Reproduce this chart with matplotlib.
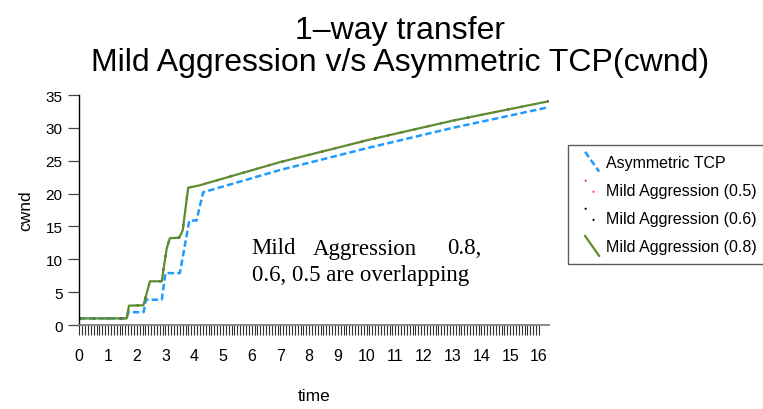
import matplotlib
matplotlib.use("Agg")
import matplotlib.pyplot as plt
from matplotlib.lines import Line2D
from matplotlib.legend_handler import HandlerLine2D
import numpy as np

# ---- data ----
asym_t = [0, 1.65, 1.70, 2.24, 2.32, 2.87, 3.00, 3.50, 3.83, 4.08, 4.31, 7.0, 10.1, 13.0, 16.4]
asym_c = [1, 1, 1.95, 1.95, 3.85, 3.85, 7.9, 7.9, 15.9, 15.9, 20.2, 23.6, 27.0, 30.0, 33.2]

mild_t = [0, 1.65, 1.73, 2.23, 2.46, 2.87, 3.04, 3.15, 3.48, 3.60, 3.79, 4.14, 7.0, 10.1, 13.0, 16.4]
mild08_c = [1, 1, 2.95, 3.0, 6.65, 6.65, 11.6, 13.2, 13.3, 14.4, 20.9, 21.2, 24.8, 28.2, 31.1, 34.1]
mild06_c = [1, 1, 2.95, 3.0, 6.65, 6.65, 11.6, 13.2, 13.3, 14.4, 20.9, 21.2, 24.8, 28.2, 31.1, 34.1]
mild05_c = [1, 1, 2.95, 3.0, 6.65, 6.65, 11.6, 13.2, 13.3, 14.4, 20.9, 21.2, 24.8, 28.2, 31.1, 34.1]

labels = ["Asymmetric TCP", "Mild Aggression (0.5)", "Mild Aggression (0.6)", "Mild Aggression (0.8)"]
x_major = list(range(0, 17))
y_major = [0, 5, 10, 15, 20, 25, 30, 35]

W, H = 763, 410
fig = plt.figure(figsize=(W / 100, H / 100), dpi=100)
plt.rcParams['font.family'] = ['Liberation Sans', 'DejaVu Sans']

def fx(px):
    return px / W
def fy(py):
    return 1 - py / H

ax = fig.add_axes([fx(79.3), fy(326), fx(549) - fx(79.3), fy(96) - fy(326)])

blue = '#1E9BFF'
green = '#5E8C2E'
l_asym, = ax.plot(asym_t, asym_c, color=blue, lw=1.8, ls=(0, (2.6, 1.3)))
l_05, = ax.plot(mild_t, mild05_c, color='#FF3366', lw=1.4, ls=(0, (1, 6)))
l_06, = ax.plot(mild_t, mild06_c, color='black', lw=1.4, ls=(0, (1, 6)))
l_08, = ax.plot(mild_t, mild08_c, color=green, lw=1.6)

ax.set_xlim(0, 16.35)
ax.set_ylim(0, 35)
for s in ['top', 'right']:
    ax.spines[s].set_visible(False)
ax.spines['left'].set_color('black')
ax.spines['left'].set_linewidth(1.0)
ax.spines['bottom'].set_color('#808080')
ax.spines['bottom'].set_linewidth(1.3)

ax.set_xticks(x_major)
ax.set_xticks(np.round(np.arange(0, 16.01, 0.1), 2), minor=True)
ax.set_yticks(y_major)
ax.tick_params(axis='x', which='both', direction='out', length=7.5, width=0.8,
               color='#333333', labelsize=11.5, pad=9)
ax.tick_params(axis='y', which='major', direction='out', length=8, width=0.9,
               color='#444444', labelsize=11, pad=4)
ax.set_xlabel('time', fontsize=12.5, labelpad=18)
ax.set_ylabel('cwnd', fontsize=12.5, labelpad=9)

# title
fig.text(fx(400), fy(31), '1\u2013way transfer', fontsize=23, ha='center', va='center')
fig.text(fx(400), fy(63), 'Mild Aggression v/s Asymmetric TCP(cwnd)', fontsize=23, ha='center', va='center')

# annotation (justified first line)
serif = ['Liberation Serif', 'DejaVu Serif']
fig.text(fx(251.7), fy(249), 'Mild', family=serif, fontsize=16.5, ha='left', va='center')
fig.text(fx(365), fy(249), 'Aggression', family=serif, fontsize=16.5, ha='center', va='center')
fig.text(fx(481), fy(249), '0.8,', family=serif, fontsize=16.5, ha='right', va='center')
fig.text(fx(251.7), fy(275), '0.6, 0.5 are overlapping', family=serif, fontsize=16.5, ha='left', va='center')


class DiagHandler(HandlerLine2D):
    def create_artists(self, legend, orig_handle, xdescent, ydescent, width, height, fontsize, trans):
        x0 = -xdescent + width * 0.35
        x1 = -xdescent + width
        line = Line2D([x0, x1], [height - ydescent + 2, -ydescent - 2])
        self.update_prop(line, orig_handle, legend)
        line.set_transform(trans)
        return [line]


leg = fig.legend([l_asym, l_05, l_06, l_08], labels, loc='upper left',
                 bbox_to_anchor=(fx(568), fy(146)), fontsize=11.5, frameon=True,
                 fancybox=False, edgecolor='#333333', handlelength=1.35, handleheight=1.0,
                 labelspacing=0.78, borderpad=0.6, handletextpad=0.45, borderaxespad=0,
                 handler_map={Line2D: DiagHandler()})
leg.get_frame().set_linewidth(1.0)

fig.savefig('out.png', dpi=100)
